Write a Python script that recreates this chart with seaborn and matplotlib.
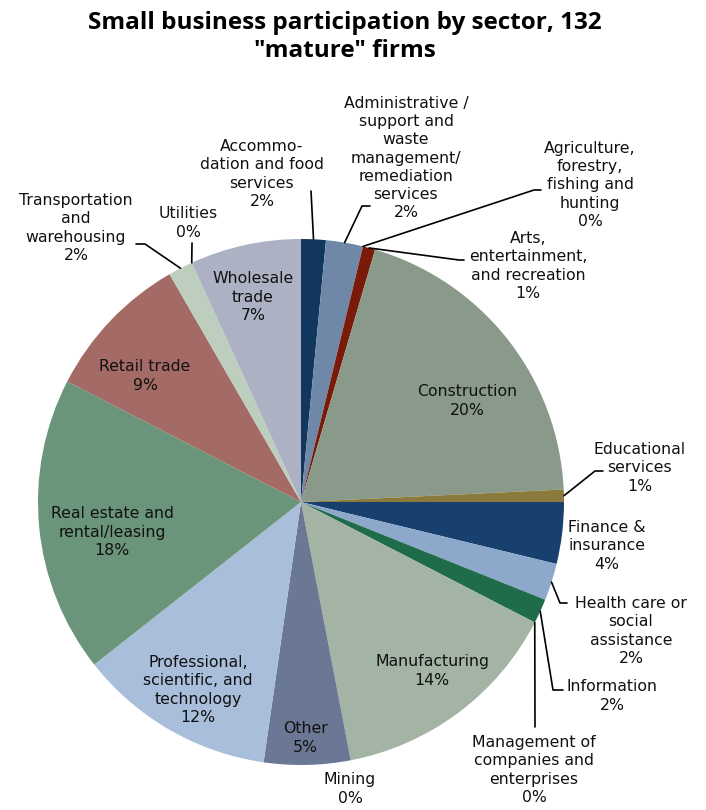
import numpy as np
import matplotlib
matplotlib.use("Agg")
import matplotlib.pyplot as plt
import seaborn as sns

# ---------------- data ----------------
title = 'Small business participation by sector, 132\n"mature" firms'
sectors = [
    "Accommo-\ndation and food\nservices",
    "Administrative /\nsupport and\nwaste\nmanagement/\nremediation\nservices",
    "Agriculture,\nforestry,\nfishing and\nhunting",
    "Arts,\nentertainment,\nand recreation",
    "Construction",
    "Educational\nservices",
    "Finance &\ninsurance",
    "Health care or\nsocial\nassistance",
    "Information",
    "Management of\ncompanies and\nenterprises",
    "Manufacturing",
    "Mining",
    "Other",
    "Professional,\nscientific, and\ntechnology",
    "Real estate and\nrental/leasing",
    "Retail trade",
    "Transportation\nand\nwarehousing",
    "Utilities",
    "Wholesale\ntrade",
]
firms = [2, 3, 0, 1, 26, 1, 5, 3, 2, 0, 19, 0, 7, 16, 24, 12, 2, 0, 9]
colors = [
    "#12375F", "#7088A8", "#8A8F3C", "#7A1A08", "#8A9A8A", "#8C7A3C",
    "#17406F", "#8EA8CB", "#1E6C4A", "#4A5A6A", "#A3B4A4", "#7A6A5A",
    "#6B7895", "#A9BEDB", "#6A957A", "#A46B66", "#BDCEBF", "#8A9A9A",
    "#ACB1C4",
]

# ---------------- layout (pixel positions in a 706x810 canvas) ----------------
W, H = 706, 810
CX, CY, R = 301, 502, 263
# label centre and leader path (bend points) for each sector, in pixels
label_layout = {
    0: ((262, 174), [(311, 191)]),
    1: ((406, 158), [(362, 206), (370, 206)]),
    2: ((590, 185), [(534, 190), (541, 190)]),
    3: ((528, 266), [(459, 260), (464, 260)]),
    4: ((467, 401), None),
    5: ((640, 468), [(595, 471), (603, 471)]),
    6: ((607, 546), None),
    7: ((631, 631), [(560, 603), (567, 603)]),
    8: ((612, 696), [(553, 690), (563, 690)]),
    9: ((534, 770), [(535, 727)]),
    10: ((432, 671), None),
    11: ((350, 789), None),
    12: ((305, 738), None),
    13: ((198, 690), None),
    14: ((112, 532), None),
    15: ((145, 376), None),
    16: ((76, 228), [(145, 244), (136, 244)]),
    17: ((188, 223), [(192, 243)]),
    18: ((253, 297), None),
}


def px2d(p):
    return ((p[0] - CX) / R, (CY - p[1]) / R)


sns.set_theme(style="white")
plt.rcParams["font.family"] = ["DejaVu Sans"]
palette = sns.color_palette(colors)

fig = plt.figure(figsize=(W / 100, H / 100), dpi=100)
fig.patch.set_facecolor("white")
ax = fig.add_axes([(CX - R) / W, (H - CY - R) / H, 2 * R / W, 2 * R / H])

wedges, _ = ax.pie(
    firms, colors=palette, startangle=90, counterclock=False, radius=1,
    wedgeprops=dict(linewidth=0, edgecolor="none"),
)
ax.set_xlim(-1, 1)
ax.set_ylim(-1, 1)
ax.set_aspect("equal")
ax.axis("off")

total = sum(firms)
for i, (name, n) in enumerate(zip(sectors, firms)):
    pct = f"{round(n / total * 100):d}%"
    (tx, ty), path = label_layout[i]
    x, y = px2d((tx, ty))
    ax.text(x, y, f"{name}\n{pct}", ha="center", va="center", fontsize=11.3,
            linespacing=1.26, color="#111111")
    if path:
        w = wedges[i]
        mid = np.deg2rad((w.theta1 + w.theta2) / 2)
        pts = [(np.cos(mid), np.sin(mid))] + [px2d(p) for p in path]
        xs, ys = zip(*pts)
        ax.plot(xs, ys, color="black", lw=1.2, clip_on=False)

fig.text(345 / W, 1 - 37 / H, title, ha="center", va="center", fontsize=17.5,
         weight="bold", linespacing=1.22, color="black",
         family=["Open Sans", "DejaVu Sans"])

fig.savefig("out.png", dpi=100, facecolor="white")
